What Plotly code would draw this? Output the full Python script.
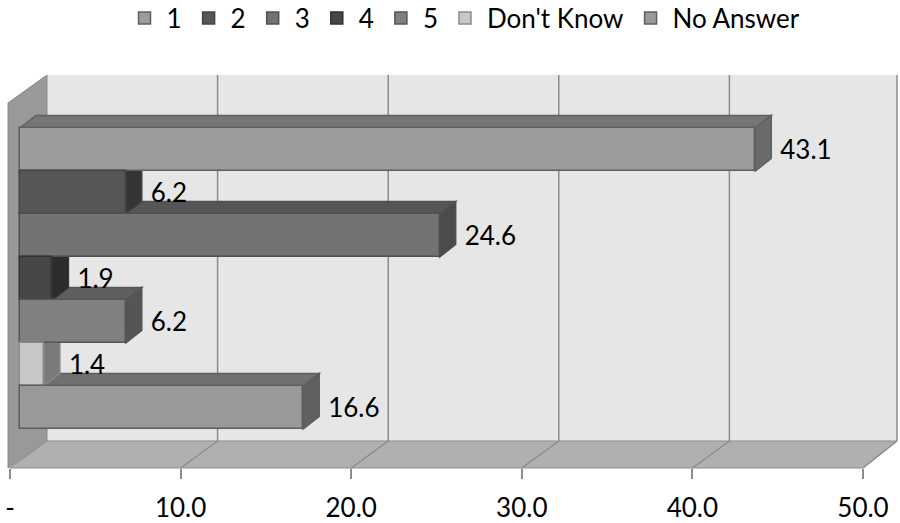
import plotly.graph_objects as go

# ---------------- data ----------------
series = ["1", "2", "3", "4", "5", "Don't Know", "No Answer"]
values = [43.1, 6.2, 24.6, 1.9, 6.2, 1.4, 16.6]
value_labels = ["43.1", "6.2", "24.6", "1.9", "6.2", "1.4", "16.6"]
tick_vals = [0, 10, 20, 30, 40, 50]
tick_text = ["-", "10.0", "20.0", "30.0", "40.0", "50.0"]

# ---------------- styles ----------------
front_colors = ["#9c9c9c", "#565656", "#737373", "#464646", "#808080", "#c8c8c8", "#999999"]
top_colors = ["#767676", "#3c3c3c", "#555555", "#303030", "#5f5f5f", "#8e8e8e", "#707070"]
side_colors = ["#6a6a6a", "#353535", "#4b4b4b", "#2c2c2c", "#555555", "#7a7a7a", "#606060"]
edge_colors = ["#606060", "#444444", "#505050", "#333333", "#555555", "#8a8a8a", "#5e5e5e"]

FONT = "Lato"
W, H = 900, 523
TOP, BOTTOM = 60, 468          # plot area in pixels
PH = BOTTOM - TOP
S = 17.06                       # px per value unit
BAR_X0 = 20                     # px of value 0 in bar plane
FLOOR_X0 = 10                   # px of value 0 in front floor plane
BACK_DX, BACK_DY = 37, -27      # wall depth offset (px)
BAR_DX, BAR_DY = 16, -12.5      # bar depth offset (px)
ROW_PX = 43                     # bar thickness in px
ROW0_PX = 149.5                 # px center of first bar

def pp(px, py):
    return px / W, (BOTTOM - py) / PH

def path_paper(points):
    pts = [pp(x, y) for x, y in points]
    return "M " + " L ".join(f"{x:.5f},{y:.5f}" for x, y in pts) + " Z"

shapes = []
# back wall
back_left = FLOOR_X0 + BACK_DX
back_right = min(FLOOR_X0 + BACK_DX + S * 50, W - 3)
back_top = 75
back_bottom = BOTTOM + BACK_DY
shapes.append(dict(type="path", xref="paper", yref="paper", layer="below",
                   path=path_paper([(back_left, back_top), (back_right, back_top),
                                    (back_right, back_bottom), (back_left, back_bottom)]),
                   fillcolor="#e6e6e6", line=dict(width=0)))
# left wall
shapes.append(dict(type="path", xref="paper", yref="paper", layer="below",
                   path=path_paper([(FLOOR_X0 - 2, back_top - BACK_DY + 1), (back_left, back_top),
                                    (back_left, back_bottom), (FLOOR_X0 - 2, BOTTOM)]),
                   fillcolor="#999999", line=dict(color="#888888", width=1)))
# floor
shapes.append(dict(type="path", xref="paper", yref="paper", layer="below",
                   path=path_paper([(FLOOR_X0, BOTTOM), (FLOOR_X0 + S * 50, BOTTOM),
                                    (back_right, back_bottom), (back_left, back_bottom)]),
                   fillcolor="#b0b0b0", line=dict(color="#8c8c8c", width=1)))
# gridlines on back wall and floor
for v in tick_vals[1:]:
    bx = min(back_left + S * v, back_right)
    fx = FLOOR_X0 + S * v
    x0, y0 = pp(bx, back_top)
    x1, y1 = pp(bx, back_bottom)
    shapes.append(dict(type="line", xref="paper", yref="paper", layer="below",
                       x0=x0, y0=y0, x1=x1, y1=y1, line=dict(color="#8c8c8c", width=1.5)))
    x0, y0 = pp(fx, BOTTOM)
    x1, y1 = pp(bx, back_bottom)
    shapes.append(dict(type="line", xref="paper", yref="paper", layer="below",
                       x0=x0, y0=y0, x1=x1, y1=y1, line=dict(color="#8c8c8c", width=1.5)))

# 3D faces of bars (data coordinates, drawn under the bar traces)
ddx = BAR_DX / S
ddy = BAR_DY / ROW_PX   # reversed axis: negative = up

def path_data(points):
    return "M " + " L ".join(f"{x:.5f},{y:.5f}" for x, y in points) + " Z"

for i in reversed(range(len(values))):
    v = values[i]
    top = i - 0.5
    bot = i + 0.5
    shapes.append(dict(type="path", xref="x", yref="y", layer="below",
                       path=path_data([(0, top), (v, top), (v + ddx, top + ddy), (ddx, top + ddy)]),
                       fillcolor=top_colors[i], line=dict(color=edge_colors[i], width=1.5)))
    shapes.append(dict(type="path", xref="x", yref="y", layer="below",
                       path=path_data([(v, top), (v, bot), (v + ddx, bot + ddy), (v + ddx, top + ddy)]),
                       fillcolor=side_colors[i], line=dict(color=edge_colors[i], width=1.5)))

fig = go.Figure()
for i, name in enumerate(series):
    fig.add_trace(go.Bar(
        x=[values[i]], y=[i], orientation="h", name=name, width=1,
        marker=dict(color=front_colors[i], line=dict(color=edge_colors[i], width=1.5)),
        hoverinfo="skip",
    ))

label_pad = (BAR_DX + 9) / S
label_dy = 2.5 / ROW_PX
fig.add_trace(go.Scatter(
    x=[v + label_pad for v in values], y=[i + label_dy for i in range(len(values))],
    mode="text", text=value_labels, textposition="middle right",
    textfont=dict(family=FONT, size=26, color="#000000"),
    showlegend=False, cliponaxis=False, hoverinfo="skip",
))
# invisible trace to activate the front-floor tick axis
fig.add_trace(go.Scatter(x=[0, 50], y=[0, 0], xaxis="x2", mode="markers",
                         marker=dict(opacity=0), showlegend=False, hoverinfo="skip"))

fig.update_layout(
    template="none",
    width=W, height=H,
    margin=dict(l=0, r=0, t=TOP, b=H - BOTTOM, pad=0, autoexpand=False),
    paper_bgcolor="white", plot_bgcolor="rgba(0,0,0,0)",
    barmode="overlay", bargap=0,
    font=dict(family=FONT, size=26, color="#000000"),
    shapes=shapes,
    showlegend=True,
    legend=dict(orientation="h", x=464 / W, xanchor="center", y=(BOTTOM - 18) / PH, yanchor="middle",
                itemwidth=34,
                font=dict(family=FONT, size=26), bgcolor="rgba(0,0,0,0)", traceorder="normal"),
    xaxis=dict(range=[-BAR_X0 / S, (W - BAR_X0) / S], showgrid=False, zeroline=False,
               showticklabels=False, ticks="", showline=False, automargin=False),
    xaxis2=dict(range=[-FLOOR_X0 / S, (W - FLOOR_X0) / S], overlaying="x", anchor="y", side="bottom",
                showgrid=False, zeroline=False, showline=False, automargin=False,
                tickmode="array", tickvals=tick_vals, ticktext=tick_text,
                ticks="outside", ticklen=10, tickcolor="#8c8c8c", tickwidth=1.5,
                ticklabelstandoff=7, tickfont=dict(family=FONT, size=26, color="#000000")),
    yaxis=dict(range=[(BOTTOM - ROW0_PX) / ROW_PX, (TOP - ROW0_PX) / ROW_PX], automargin=False,
               showgrid=False, zeroline=False, showticklabels=False, ticks="", showline=False),
)

fig.write_html("out.html", config={"displayModeBar": False},
               post_script="document.body.style.margin='0';")
